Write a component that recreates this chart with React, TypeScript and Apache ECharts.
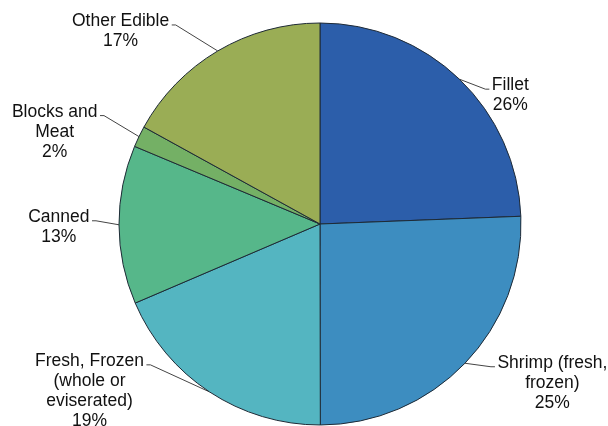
import React, { useEffect, useRef } from "react";
import * as echarts from "echarts";

const categories = [
  "Fillet",
  "Shrimp (fresh,\nfrozen)",
  "Fresh, Frozen\n(whole or\neviserated)",
  "Canned",
  "Blocks and\nMeat",
  "Other Edible",
];
const shares = [24.4, 25.6, 18.6, 12.75, 1.7, 17.0];
const percentLabels = ["26%", "25%", "19%", "13%", "2%", "17%"];

const colors = ["#2c5eaa", "#3d8dc0", "#54b5c1", "#56b78a", "#74b065", "#9aad55"];
// label leader offsets (from slice edge to line end), layout only
const labelOffsets: number[][] = [
  [30, 10],
  [30, 3.5],
  [-63, -27],
  [-27, -4],
  [-39, -21],
  [-46, -26],
];

export default function App() {
  const ref = useRef<HTMLDivElement>(null);
  useEffect(() => {
    const chart = echarts.init(ref.current!, null, { renderer: "svg" });
    chart.setOption({
      animation: false,
      series: [
        {
          type: "pie",
          center: [320, 224],
          radius: 201,
          startAngle: 90,
          clockwise: true,
          avoidLabelOverlap: false,
          data: categories.map((name, i) => ({
            name,
            value: shares[i],
            itemStyle: { color: colors[i] },
          })),
          itemStyle: { borderColor: "#1e2a36", borderWidth: 1 },
          emphasis: { disabled: true },
          label: {
            show: true,
            position: "outside",
            formatter: (p: any) => `${p.name}\n${percentLabels[p.dataIndex]}`,
            fontFamily: "'Liberation Sans', Arial, sans-serif",
            fontSize: 17.5,
            lineHeight: 20,
            color: "#111",
          },
          labelLine: {
            show: true,
            length: 10,
            length2: 10,
            lineStyle: { color: "#444", width: 1 },
          },
          labelLayout: (params: any) => {
            const pts = params.labelLinePoints;
            if (!pts) return {};
            const [dx, dy] = labelOffsets[params.dataIndex];
            const start = [pts[0][0], pts[0][1]];
            const end = [start[0] + dx, start[1] + dy];
            const dir = dx >= 0 ? 1 : -1;
            const hook = [end[0] - dir * 4, end[1]];
            const w = params.labelRect.width;
            return {
              x: end[0] + dir * (2.5 + w / 2),
              y: end[1] - 15,
              align: "center",
              verticalAlign: "top",
              labelLinePoints: [start, hook, end],
            };
          },
        },
      ],
    });
    return () => chart.dispose();
  }, []);
  return (
    <div
      ref={ref}
      style={{ position: "fixed", left: 0, top: 0, width: 608, height: 426 }}
    />
  );
}
